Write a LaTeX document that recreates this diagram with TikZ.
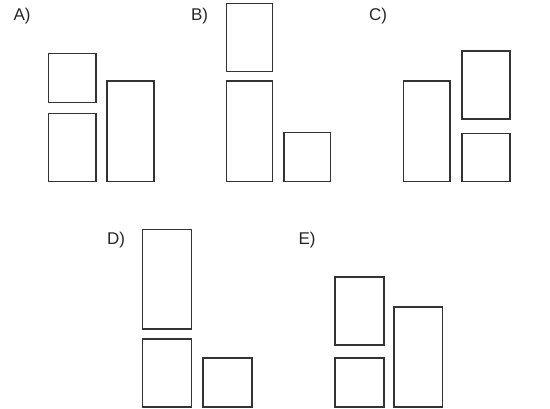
\documentclass[tikz,border=0pt]{standalone}
\usepackage{fontspec}
\setmainfont{Liberation Sans}
\begin{document}
\begin{tikzpicture}[x=1pt,y=-1pt,
  blk/.style={draw=black!80,line width=1.3pt},
  lbl/.style={font=\fontsize{17}{17}\selectfont,text=black!85,inner sep=0pt}]
\useasboundingbox (0,0) rectangle (550,408);
% A
\node[lbl] (la) at (22,16) {A)};
\draw[blk] (48.5,53.5) rectangle (96,102.5) coordinate (a1);
\draw[blk] (48.5,113.5) rectangle (96,181.5) coordinate (a2);
\draw[blk] (107,81) rectangle (154,181.5) coordinate (a3);
% B
\node[lbl] (lb) at (199.5,16) {B)};
\draw[blk] (226.5,3.5) rectangle (272.5,71.5) coordinate (b1);
\draw[blk] (226.5,81) rectangle (272.5,181.5) coordinate (b2);
\draw[blk] (284,132.5) rectangle (330.5,181.5) coordinate (b3);
% C
\node[lbl] (lc) at (378,16) {C)};
\draw[blk] (403.5,81) rectangle (450,181.5) coordinate (c1);
\draw[blk] (462,51) rectangle (510,119) coordinate (c2);
\draw[blk] (462,133.5) rectangle (510,181.5) coordinate (c3);
% D
\node[lbl] (ld) at (116,240) {D)};
\draw[blk] (142.5,229.5) rectangle (191.5,329) coordinate (d1);
\draw[blk] (142.5,339) rectangle (191.5,407) coordinate (d2);
\draw[blk] (203,358) rectangle (252,407) coordinate (d3);
% E
\node[lbl] (le) at (307,240) {E)};
\draw[blk] (335,277) rectangle (384,345) coordinate (e1);
\draw[blk] (335,358) rectangle (384,407) coordinate (e2);
\draw[blk] (394,307) rectangle (442.5,407) coordinate (e3);
\end{tikzpicture}
\end{document}
